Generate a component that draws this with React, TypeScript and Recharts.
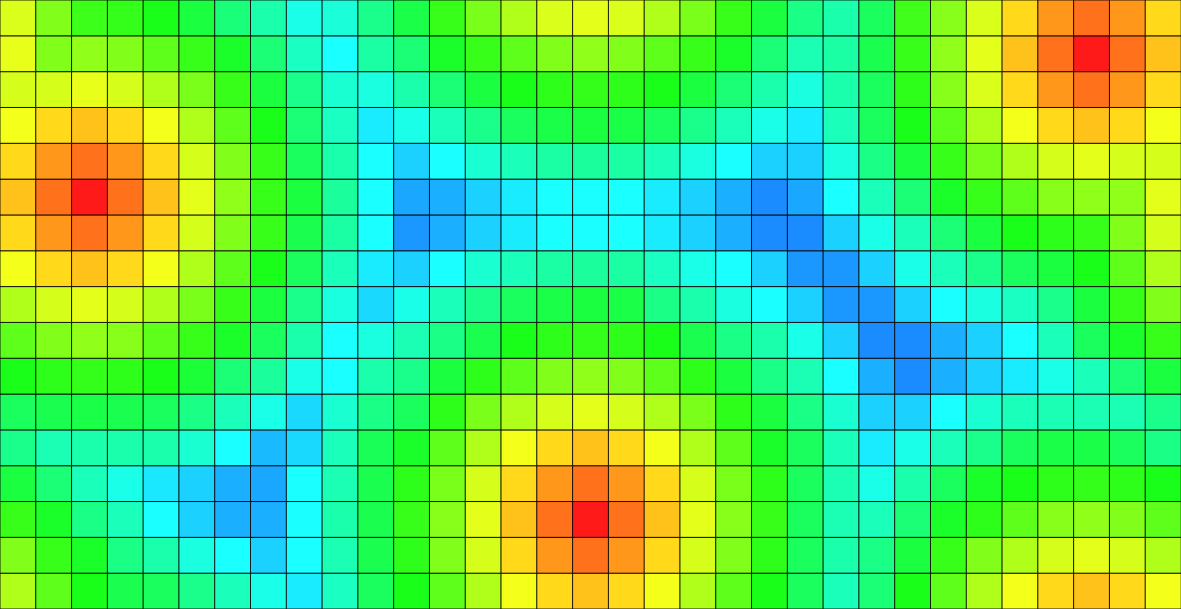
import React from 'react'
import { BarChart, Bar, XAxis, YAxis, Cell } from 'recharts'

// heat values per row, top row first (0 = coldest blue, 210 = hottest red)
const r00 = [140, 117, 99, 97, 90, 80, 65, 52, 36, 40, 60, 78, 98, 115, 129, 140, 143, 140, 129, 115, 98, 80, 62, 52, 72, 100, 119, 140, 160, 177, 187, 177, 160]
const r01 = [144, 117, 121, 117, 108, 98, 86, 66, 46, 30, 54, 66, 86, 98, 108, 117, 121, 117, 108, 98, 86, 66, 50, 54, 76, 98, 121, 143, 166, 187, 210, 187, 166]
const r02 = [139, 139, 144, 139, 129, 115, 98, 80, 60, 42, 38, 52, 66, 80, 90, 95, 97, 95, 90, 80, 66, 52, 38, 52, 72, 95, 119, 140, 160, 177, 187, 177, 160]
const r03 = [147, 160, 166, 160, 147, 129, 108, 90, 66, 46, 25, 36, 48, 60, 72, 78, 80, 78, 72, 60, 48, 36, 25, 48, 72, 90, 108, 129, 147, 160, 166, 160, 147]
const r04 = [160, 177, 187, 177, 160, 139, 117, 98, 72, 52, 30, 18, 30, 42, 48, 54, 56, 54, 48, 38, 30, 18, 18, 38, 62, 80, 98, 115, 129, 139, 143, 139, 139]
const r05 = [166, 187, 210, 187, 166, 143, 121, 98, 80, 56, 30, 7, 9, 18, 25, 30, 30, 30, 25, 18, 9, 0, 7, 30, 48, 66, 86, 98, 108, 119, 121, 121, 143]
const r06 = [160, 177, 187, 177, 160, 139, 117, 98, 76, 54, 30, 3, 9, 18, 25, 30, 30, 30, 25, 18, 9, 0, 0, 18, 36, 48, 66, 80, 90, 95, 98, 117, 139]
const r07 = [147, 160, 166, 160, 147, 129, 108, 90, 72, 48, 25, 18, 30, 42, 48, 54, 56, 54, 46, 36, 30, 18, 3, 3, 18, 36, 48, 60, 72, 80, 90, 108, 129]
const r08 = [129, 139, 143, 139, 129, 115, 98, 80, 60, 38, 20, 36, 48, 60, 72, 78, 80, 78, 62, 52, 38, 30, 18, 3, 3, 18, 30, 38, 46, 60, 80, 98, 117]
const r09 = [108, 117, 121, 119, 108, 98, 86, 72, 52, 30, 38, 50, 62, 76, 90, 95, 97, 95, 90, 76, 62, 52, 36, 18, 0, 0, 9, 18, 30, 48, 72, 86, 98]
const r10 = [90, 95, 97, 95, 90, 82, 66, 56, 36, 30, 52, 60, 80, 95, 108, 117, 121, 117, 108, 95, 80, 62, 50, 30, 9, 0, 9, 18, 25, 36, 48, 66, 80]
const r11 = [72, 76, 78, 76, 72, 62, 48, 36, 20, 42, 62, 72, 95, 115, 129, 139, 143, 139, 129, 115, 95, 80, 62, 42, 18, 18, 30, 42, 48, 50, 50, 50, 60]
const r12 = [60, 50, 52, 52, 52, 42, 30, 12, 20, 48, 74, 86, 108, 129, 147, 160, 166, 160, 147, 129, 108, 86, 72, 48, 25, 36, 48, 60, 72, 78, 78, 72, 62]
const r13 = [80, 66, 48, 36, 24, 18, 9, 7, 30, 50, 76, 95, 115, 139, 160, 177, 187, 177, 160, 139, 115, 95, 72, 50, 36, 52, 72, 86, 90, 95, 97, 95, 90]
const r14 = [98, 86, 62, 48, 30, 18, 9, 9, 30, 52, 76, 98, 119, 143, 166, 187, 210, 187, 166, 143, 119, 98, 72, 50, 48, 66, 86, 95, 108, 119, 121, 117, 108]
const r15 = [117, 98, 86, 62, 52, 38, 30, 18, 30, 50, 76, 95, 117, 139, 160, 177, 187, 177, 160, 139, 117, 95, 72, 52, 62, 80, 98, 117, 129, 139, 143, 139, 129]
const r16 = [129, 108, 90, 76, 72, 60, 48, 36, 25, 46, 72, 90, 108, 129, 147, 160, 166, 160, 147, 129, 108, 90, 72, 48, 66, 90, 108, 129, 147, 160, 166, 160, 147]

const rows = [r00, r01, r02, r03, r04, r05, r06, r07, r08, r09, r10, r11, r12, r13, r14, r15, r16]
const columns = r00.map((_, i) => `C${i + 1}`)

// hue runs from blue (210) down to red (0)
const heatColor = (v: number) => `hsl(${210 - v}, 100%, 55%)`

// one record per column; each row is a stacked block of height 1
const data = columns.map((col, c) => {
  const rec: Record<string, any> = { col }
  rows.forEach((row, r) => {
    rec[`h${r}`] = 1
    rec[`v${r}`] = row[c]
  })
  return rec
})

// stacking starts at the bottom, so draw the last row first
const stackOrder = rows.map((_, r) => rows.length - 1 - r)

export default function App() {
  return (
    <div>
      <style>{'body{margin:0}'}</style>
      <BarChart
        width={1181}
        height={609}
        data={data}
        margin={{ top: 0, right: 0, bottom: 0, left: 0 }}
        barCategoryGap={0}
        barGap={0}
      >
        <XAxis dataKey="col" hide />
        <YAxis type="number" domain={[0, rows.length]} hide />
        {stackOrder.map((r) => (
          <Bar
            key={r}
            dataKey={`h${r}`}
            stackId="grid"
            isAnimationActive={false}
            stroke="#000"
            strokeOpacity={0.85}
            strokeWidth={1}
          >
            {data.map((d, c) => (
              <Cell key={c} fill={heatColor(d[`v${r}`])} />
            ))}
          </Bar>
        ))}
      </BarChart>
    </div>
  )
}
